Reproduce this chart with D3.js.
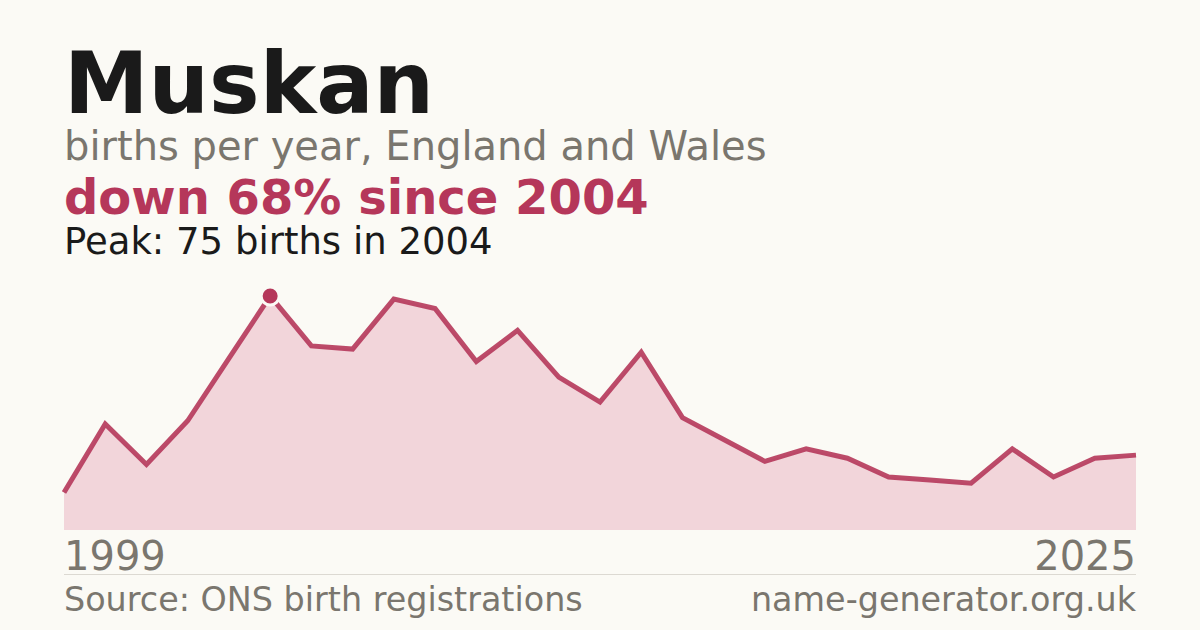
<!DOCTYPE html>
<html><head><meta charset="utf-8">
<script src="https://cdn.jsdelivr.net/npm/d3@7/dist/d3.min.js"></script>
<style>
html,body{margin:0;padding:0;background:#fbfaf5;}
svg{display:block;font-family:"DejaVu Sans",sans-serif;}
</style></head><body>
<svg id="c" width="1200" height="630"></svg>
<script>
const years = d3.range(1999, 2026);
const births = [12,34,21,35,55,75,59,58,74,71,54,64,49,41,57,36,29,22,26,23,17,16,15,26,17,23,24];
const tickLabels = ["1999","2025"];
const title = "Muskan";
const subtitle = "births per year, England and Wales";
const change = "down 68% since 2004";
const peakText = "Peak: 75 births in 2004";
const source = "Source: ONS birth registrations";
const site = "name-generator.org.uk";

const data = years.map((y,i)=>({year:y, v:births[i]}));
const svg = d3.select("#c");
svg.append("rect").attr("width",1200).attr("height",630).attr("fill","#fbfaf5");

const x = d3.scaleLinear().domain([1999,2025]).range([64,1136]);
const y = d3.scaleLinear().domain([0,75]).range([530,296]);

svg.append("path").datum(data)
  .attr("d", d3.area().x(d=>x(d.year)).y0(y(0)).y1(d=>y(d.v)))
  .attr("fill","#f2d5da");
svg.append("path").datum(data)
  .attr("d", d3.line().x(d=>x(d.year)).y(d=>y(d.v)))
  .attr("fill","none").attr("stroke","#b5375a").attr("stroke-opacity",0.9)
  .attr("stroke-width",5).attr("stroke-linejoin","miter");

const peak = data.reduce((a,b)=>b.v>a.v?b:a);
svg.append("circle").attr("cx",x(peak.year)).attr("cy",y(peak.v)).attr("r",9)
  .attr("fill","#b5375a").attr("stroke","#fbfaf5").attr("stroke-width",3);

svg.append("text").attr("x",64).attr("y",113).attr("font-size",85).attr("font-weight","bold")
  .attr("fill","#1a1a1a").text(title);
svg.append("text").attr("x",64).attr("y",160).attr("font-size",40).attr("fill","#7a766e").text(subtitle);
svg.append("text").attr("x",64).attr("y",214).attr("font-size",48).attr("font-weight","bold")
  .attr("fill","#b5375a").text(change);
svg.append("text").attr("x",64).attr("y",254).attr("font-size",37).attr("fill","#1a1a1a").text(peakText);

svg.append("text").attr("x",x(1999)).attr("y",570).attr("font-size",40).attr("fill","#7a766e").text(tickLabels[0]);
svg.append("text").attr("x",x(2025)).attr("y",570).attr("font-size",40).attr("fill","#7a766e")
  .attr("text-anchor","end").text(tickLabels[1]);
svg.append("line").attr("x1",64).attr("x2",1136).attr("y1",574.5).attr("y2",574.5)
  .attr("stroke","#dcd9d2").attr("stroke-width",1);
svg.append("text").attr("x",64).attr("y",611).attr("font-size",33.4).attr("fill","#7a766e").text(source);
svg.append("text").attr("x",1136).attr("y",611).attr("font-size",33.4).attr("fill","#7a766e")
  .attr("text-anchor","end").text(site);
</script>
</body></html>
